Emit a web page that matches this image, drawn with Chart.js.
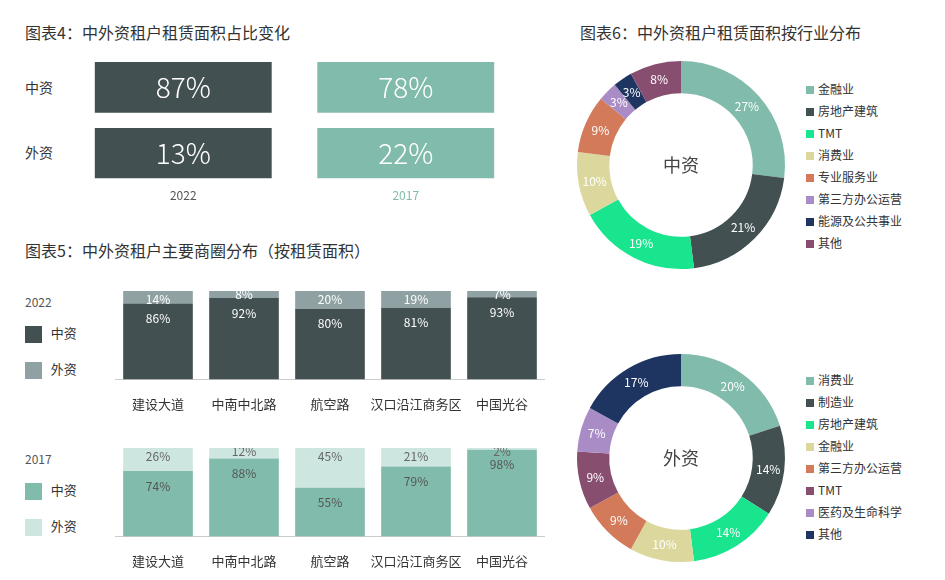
<!DOCTYPE html>
<html><head><meta charset="utf-8">
<script src="https://cdn.jsdelivr.net/npm/chart.js@4"></script>
<style>
body{margin:0;width:945px;height:580px;background:#fff;font-family:"Noto Sans CJK SC","Noto Sans",sans-serif;color:#333;position:relative;overflow:hidden}
.abs{position:absolute}
.t{font-size:16px;color:#333}
.lab{font-size:13px;color:#333}
.sq{display:inline-block;width:17px;height:17px;vertical-align:middle}
.leg div{font-size:12px;color:#333;height:22px;line-height:22px;white-space:nowrap}
.leg span{display:inline-block;width:8px;height:8px;margin-right:4px}
canvas{position:absolute}
</style></head><body>
<div class="abs t" style="left:25px;top:20px">图表4：中外资租户租赁面积占比变化</div>
<div class="abs t" style="left:580px;top:20px">图表6：中外资租户租赁面积按行业分布</div>
<div class="abs t" style="left:25px;top:238px">图表5：中外资租户主要商圈分布（按租赁面积）</div>
<div class="abs lab" style="left:25px;top:77px;font-size:14px">中资</div>
<div class="abs lab" style="left:25px;top:142px;font-size:14px">外资</div>

<div class="abs lab" style="left:25px;top:293px;color:#555;font-size:12px">2022</div>
<div class="abs lab" style="left:25px;top:323px"><span class="sq" style="background:#435052"></span>&nbsp;&nbsp;&nbsp;中资</div>
<div class="abs lab" style="left:25px;top:359px"><span class="sq" style="background:#8fa1a3"></span>&nbsp;&nbsp;&nbsp;外资</div>
<div class="abs lab" style="left:25px;top:450px;color:#555;font-size:12px">2017</div>
<div class="abs lab" style="left:25px;top:480px"><span class="sq" style="background:#80bbab"></span>&nbsp;&nbsp;&nbsp;中资</div>
<div class="abs lab" style="left:25px;top:516px"><span class="sq" style="background:#cde6df"></span>&nbsp;&nbsp;&nbsp;外资</div>

<div id="leg1" class="abs leg" style="left:806px;top:78px"></div>
<div id="leg2" class="abs leg" style="left:806px;top:369px"></div>

<canvas id="c4" width="445" height="143" style="left:72px;top:62px"></canvas>
<canvas id="c5a" width="430" height="130" style="left:115px;top:291px"></canvas>
<canvas id="c5b" width="430" height="130" style="left:115px;top:448px"></canvas>
<canvas id="d1" width="220" height="220" style="left:571px;top:55px"></canvas>
<canvas id="d2" width="220" height="220" style="left:571px;top:348px"></canvas>
<script>
const years=['2022','2017'];
const share2022=[87,13]; // 中资, 外资
const share2017=[78,22];
const districts=['建设大道','中南中北路','航空路','汉口沿江商务区','中国光谷'];
const cn2022=[86,92,80,81,93];
const fr2022=[14,8,20,19,7];
const cn2017=[74,88,55,79,98];
const fr2017=[26,12,45,21,2];
const indCN=['金融业','房地产建筑','TMT','消费业','专业服务业','第三方办公运营','能源及公共事业','其他'];
const valCN=[27,21,19,10,9,3,3,8];
const indFR=['消费业','制造业','房地产建筑','金融业','第三方办公运营','TMT','医药及生命科学','其他'];
const valFR=[20,14,14,10,9,9,7,17];
const palCN=['#80bbab','#435052','#19e58f','#dcd89d','#d27a5a','#a98cc6','#1e3562','#884e70'];
const palFR=['#80bbab','#435052','#19e58f','#dcd89d','#d27a5a','#884e70','#a98cc6','#1e3562'];
const F='"Noto Sans CJK SC","Noto Sans",sans-serif';

const yearCol=['#435052','#80bbab'];
new Chart(document.getElementById('c4'),{type:'bar',
 data:{labels:years,datasets:[
  {label:'外资',data:[1,1],pct:[share2022[1],share2017[1]],backgroundColor:yearCol},
  {label:'gap',data:[0.3,0.3],backgroundColor:'rgba(0,0,0,0)'},
  {label:'中资',data:[1,1],pct:[share2022[0],share2017[0]],backgroundColor:yearCol}]},
 options:{responsive:false,animation:false,events:[],layout:{padding:0},
  datasets:{bar:{barPercentage:0.795,categoryPercentage:1}},
  plugins:{legend:{display:false},tooltip:{enabled:false}},
  scales:{x:{stacked:true,grid:{display:false},border:{display:false},
     ticks:{padding:2,font:{family:F,size:12},color:c=>['#555','#80bbab'][c.index]}},
   y:{stacked:true,display:false,min:0,max:2.3}}},
 plugins:[{id:'l4',afterDatasetsDraw(ch){const ctx=ch.ctx;ctx.save();ctx.fillStyle='#fff';ctx.font='300 28px '+F;ctx.textAlign='center';ctx.textBaseline='middle';
  [0,2].forEach(di=>{ch.getDatasetMeta(di).data.forEach((b,i)=>{ctx.fillText(ch.data.datasets[di].pct[i]+'%',b.x,(b.y+b.base)/2);});});ctx.restore();}}]
});

function stack(id,cn,fr,c1,c2,tc){
 new Chart(document.getElementById(id),{type:'bar',
  data:{labels:districts,datasets:[{label:'中资',data:cn,backgroundColor:c1},{label:'外资',data:fr,backgroundColor:c2}]},
  options:{responsive:false,animation:false,events:[],layout:{padding:0},
   datasets:{bar:{barPercentage:0.81,categoryPercentage:1}},
   plugins:{legend:{display:false},tooltip:{enabled:false}},
   scales:{x:{stacked:true,grid:{display:false},border:{color:'#ccc'},
      ticks:{padding:9,maxRotation:0,minRotation:0,autoSkip:false,font:{family:F,size:13},color:'#333'}},
    y:{stacked:true,display:false,min:0,max:100}}},
  plugins:[{id:'lb',afterDatasetsDraw(ch){const ctx=ch.ctx;ctx.save();ctx.font='12px '+F;ctx.textAlign='center';ctx.textBaseline='middle';
   [0,1].forEach(di=>{ch.getDatasetMeta(di).data.forEach((b,i)=>{ctx.fillStyle=tc[di];
     const v=ch.data.datasets[di].data[i];const top=Math.min(b.y,b.base);
     ctx.fillText(v+'%',b.x,di==1?(Math.abs(b.base-b.y)<12?b.y+3:top+8):top+15);});});ctx.restore();}}]
 });
}
stack('c5a',cn2022,fr2022,'#435052','#8fa1a3',['#fff','#fff']);
stack('c5b',cn2017,fr2017,'#80bbab','#cde6df',['#555','#666']);

function donut(id,labels,vals,pal,center,legId){
 new Chart(document.getElementById(id),{type:'doughnut',
  data:{labels:labels,datasets:[{data:vals,backgroundColor:pal,borderWidth:0}]},
  options:{responsive:false,animation:false,events:[],cutout:'69%',layout:{padding:6},
   plugins:{legend:{display:false},tooltip:{enabled:false}}},
  plugins:[{id:'dl',afterDatasetsDraw(ch){const ctx=ch.ctx;ctx.save();ctx.textAlign='center';ctx.textBaseline='middle';
   ch.getDatasetMeta(0).data.forEach((a,i)=>{const m=(a.startAngle+a.endAngle)/2,r=(a.innerRadius+a.outerRadius)/2;
    ctx.fillStyle='#fff';ctx.font='12px '+F;ctx.fillText(vals[i]+'%',a.x+Math.cos(m)*r,a.y+Math.sin(m)*r);});
   const a=ch.getDatasetMeta(0).data[0];ctx.fillStyle='#444';ctx.font='18px '+F;ctx.fillText(center,a.x,a.y);ctx.restore();}}]
 });
 document.getElementById(legId).innerHTML=labels.map((l,i)=>'<div><span style="background:'+pal[i]+'"></span>'+l+'</div>').join('');
}
donut('d1',indCN,valCN,palCN,'中资','leg1');
donut('d2',indFR,valFR,palFR,'外资','leg2');
</script></body></html>
